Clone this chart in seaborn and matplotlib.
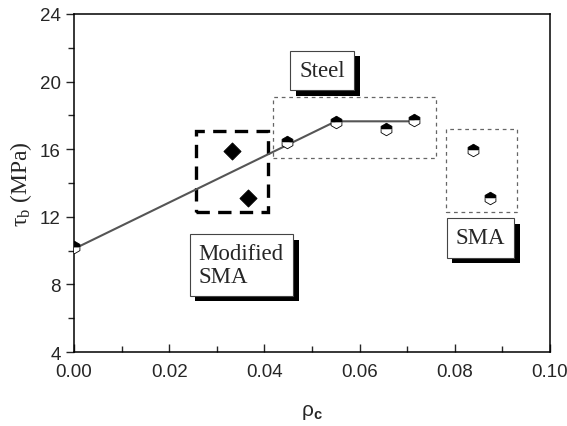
import numpy as np
import pandas as pd
import seaborn as sns
import matplotlib.pyplot as plt
import matplotlib.patheffects as pe
from matplotlib.patches import Rectangle

# Data
steel_rho = [0.0, 0.0447, 0.055, 0.0655, 0.0714]
steel_tau = [10.2, 16.45, 17.6, 17.2, 17.7]
sma_rho = [0.0838, 0.0873]
sma_tau = [15.95, 13.1]
mod_rho = [0.0332, 0.0366]
mod_tau = [15.9, 13.1]
fit_rho = [0.0, 0.055, 0.0714]
fit_tau = [10.1, 17.65, 17.65]

sns.set_style('ticks')
plt.rcParams['font.family'] = ['Liberation Sans', 'DejaVu Sans']
plt.rcParams['mathtext.fontset'] = 'custom'
plt.rcParams['mathtext.rm'] = 'Liberation Serif'
plt.rcParams['mathtext.it'] = 'Liberation Serif:italic'
plt.rcParams['mathtext.bf'] = 'Liberation Sans:bold'

fig = plt.figure(figsize=(5.67, 4.27), dpi=100)
ax = fig.add_axes([0.1305, 0.1733, 0.8395, 0.7916])

# fitted bilinear line
sns.lineplot(x=fit_rho, y=fit_tau, ax=ax, color='#555555', lw=1.5, zorder=2)

# half filled markers for steel / SMA
hex_kw = dict(marker='h', ms=9, ls='none', fillstyle='top', markerfacecolor='black',
              markerfacecoloralt='white', markeredgecolor='black', mew=0.6, zorder=3)
ax.plot(steel_rho, steel_tau, **hex_kw)
ax.plot(sma_rho, sma_tau, **hex_kw)

# modified SMA diamonds
sns.scatterplot(x=mod_rho, y=mod_tau, ax=ax, marker='D', s=75, color='black',
                edgecolor='black', zorder=3)

# grouping boxes
ax.add_patch(Rectangle((0.0257, 12.27), 0.015, 4.83, fill=False, ec='black',
                       lw=2.4, ls=(0, (4, 2.5)), zorder=1))
ax.add_patch(Rectangle((0.0419, 15.46), 0.0342, 3.64, fill=False, ec='#666666',
                       lw=0.9, ls=(0, (3, 3)), zorder=1))
ax.add_patch(Rectangle((0.0781, 12.3), 0.015, 4.9, fill=False, ec='#666666',
                       lw=0.9, ls=(0, (3, 3)), zorder=1))

# labels with drop shadow
def label(x, y, txt):
    t = ax.text(x, y, txt, family='Liberation Serif', fontsize=16.5, linespacing=1.1,
                ha='left', va='center', zorder=5,
                bbox=dict(boxstyle='square,pad=0.4', fc='white', ec='#444444', lw=0.8))
    t.get_bbox_patch().set_path_effects([
        pe.SimplePatchShadow(offset=(4, -4), shadow_rgbFace='black', alpha=1.0),
        pe.Normal()])

label(0.0474, 20.65, 'Steel')
label(0.0802, 10.75, 'SMA')
label(0.0262, 9.15, 'Modified\nSMA')

ax.set_xlim(0, 0.10)
ax.set_ylim(4, 24)
ax.set_xticks(np.arange(0, 0.101, 0.02))
ax.set_xticks(np.arange(0.01, 0.1, 0.02), minor=True)
ax.set_yticks(np.arange(4, 25, 4))
ax.set_yticks(np.arange(6, 24, 4), minor=True)
ax.set_xticklabels(['0.00', '0.02', '0.04', '0.06', '0.08', '0.10'])
ax.tick_params(axis='x', which='both', direction='in', labelsize=13.5, pad=8)
ax.tick_params(axis='y', which='both', direction='out', labelsize=13.5)
ax.tick_params(which='major', length=6, width=1)
ax.tick_params(which='minor', length=4, width=1)
for s in ax.spines.values():
    s.set_linewidth(1.1)
    s.set_color('black')

ax.set_ylabel(r'$\mathrm{\tau_b}$ (MPa)', family='Liberation Serif', fontsize=17, labelpad=4)
ax.set_xlabel(r'ρ$_{\mathbf{c}}$', fontsize=15, labelpad=16)

fig.savefig('out.png', dpi=100)
